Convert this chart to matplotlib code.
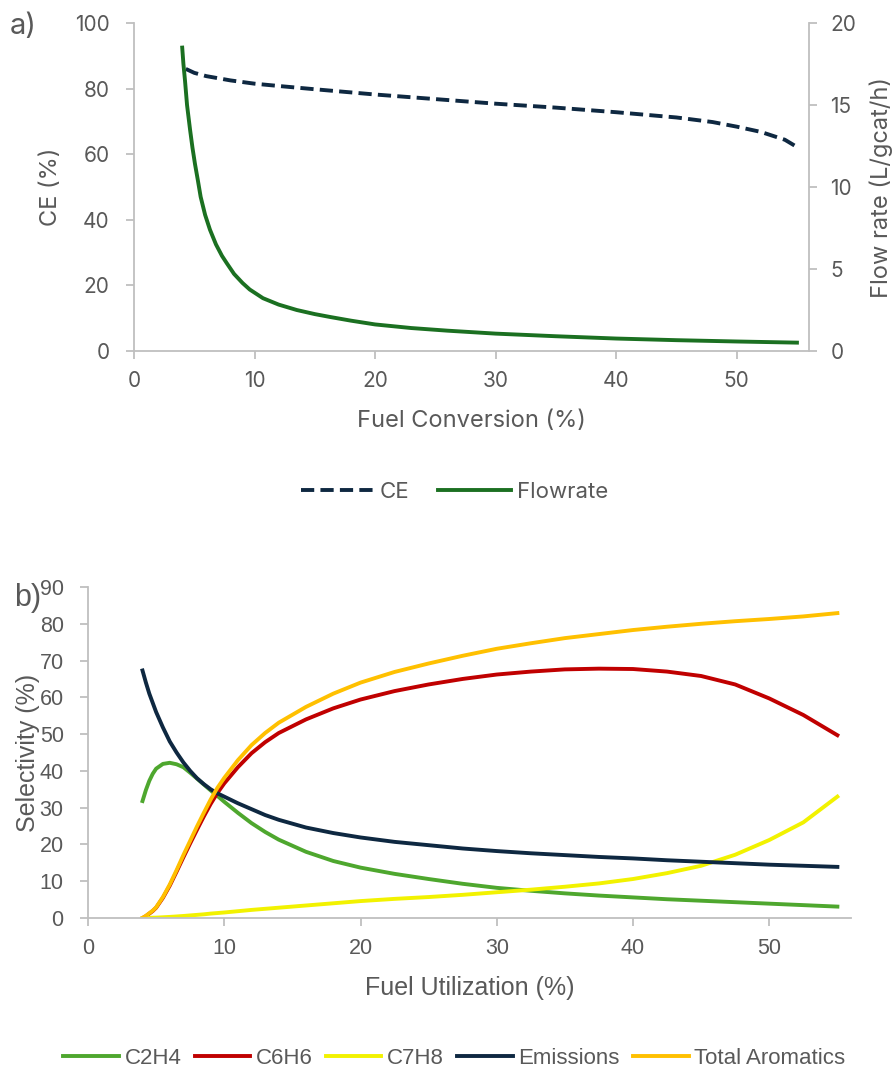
import matplotlib.pyplot as plt
import numpy as np

# panel a) - CE and flow rate vs fuel conversion
conv_ce = [4.3, 5, 6, 8, 10, 12, 15, 20, 25, 30, 35, 40, 45, 48, 50, 52, 54, 55]
ce = [86, 84.8, 83.8, 82.5, 81.5, 80.8, 79.8, 78.2, 76.8, 75.4, 74.2, 72.8, 71.2, 69.8, 68.4, 66.8, 64.4, 62.2]

conv_flow = [4.0, 4.1, 4.23, 4.4, 4.65, 4.85, 5.06, 5.3, 5.53, 5.9, 6.3, 6.8, 7.3, 7.7, 8.3, 9, 9.6,
             10.7, 12, 13.5, 15, 16.3, 18, 20, 23, 26, 30, 35, 40, 45, 50, 55]
flowrate = [18.5, 17.5, 16.5, 15.0, 13.5, 12.4, 11.4, 10.4, 9.4, 8.3, 7.4, 6.5, 5.8, 5.35, 4.7, 4.15, 3.75,
            3.22, 2.83, 2.5, 2.25, 2.07, 1.85, 1.62, 1.4, 1.24, 1.06, 0.9, 0.76, 0.66, 0.58, 0.51]

# panel b) - selectivities vs fuel utilization
util = [4, 4.25, 4.5, 4.75, 5, 5.5, 6, 6.5, 7, 7.5, 8, 8.5, 9, 9.5, 10, 11, 12, 13, 14, 16, 18, 20,
        22.5, 25, 27.5, 30, 32.5, 35, 37.5, 40, 42.5, 45, 47.5, 50, 52.5, 55]
c2h4 = [31.8, 34.8, 37.3, 39.2, 40.6, 41.9, 42.2, 41.8, 41, 39.5, 37.9, 36.3, 34.7, 33.2, 31.6, 28.6, 25.8,
        23.4, 21.3, 18, 15.5, 13.7, 12, 10.6, 9.3, 8.2, 7.4, 6.7, 6.1, 5.6, 5.1, 4.7, 4.3, 3.9, 3.5, 3.1]
c6h6 = [0, 0.5, 1.2, 1.9, 2.8, 5.5, 8.8, 12.6, 16.5, 20.3, 24, 27.6, 31, 34, 36.6, 41, 44.8, 47.8, 50.3, 54,
        57, 59.4, 61.7, 63.5, 65, 66.2, 67, 67.6, 67.8, 67.7, 67, 65.8, 63.5, 59.7, 55.2, 49.7]
c7h8 = [0, 0, 0.05, 0.08, 0.1, 0.2, 0.3, 0.42, 0.55, 0.7, 0.85, 1.0, 1.2, 1.35, 1.5, 1.85, 2.2, 2.5, 2.8, 3.4,
        4.0, 4.6, 5.2, 5.7, 6.3, 7.0, 7.7, 8.5, 9.4, 10.6, 12.2, 14.2, 17.2, 21.2, 26, 33]
emissions = [67.3, 64, 61, 58.5, 56, 51.8, 48, 45, 42.3, 40, 38, 36.4, 35, 33.9, 33, 31.2, 29.6, 28, 26.7,
             24.6, 23.1, 21.9, 20.7, 19.8, 18.9, 18.2, 17.6, 17.1, 16.6, 16.2, 15.7, 15.3, 14.9, 14.5, 14.2, 13.9]
total_arom = [0, 0.6, 1.3, 2.0, 2.9, 5.7, 9.1, 13, 17.1, 21, 24.9, 28.6, 32.2, 35.4, 38.1, 42.9, 47, 50.3,
              53.1, 57.4, 61, 64, 66.9, 69.2, 71.3, 73.2, 74.7, 76.1, 77.2, 78.3, 79.2, 80, 80.7, 81.3, 82, 82.9]

grey = '#BFBFBF'
txt = '#595959'
W, H = 896, 1069

fig = plt.figure(figsize=(W / 100, H / 100), dpi=100)


def style(ax, spines):
    for s in ['top', 'right', 'left', 'bottom']:
        ax.spines[s].set_visible(s in spines)
        ax.spines[s].set_color(grey)
        ax.spines[s].set_linewidth(1.3)
    ax.tick_params(colors=grey, labelcolor=txt, length=5.5, width=1.3, direction='out')


# ---- a)
fa = 'Inter'
ax1 = fig.add_axes([134 / W, 1 - 351 / H, 675 / W, 328 / H])
ax2 = ax1.twinx()
l1, = ax1.plot(conv_ce, ce, color='#0E2841', lw=2.8, ls=(0, (3.4, 1.6)), label='CE')
l2, = ax2.plot(conv_flow, flowrate, color='#1B7021', lw=2.8, label='Flowrate')
ax1.set_xlim(0, 56)
ax1.set_ylim(0, 100)
ax2.set_ylim(0, 20)
ax1.set_xticks(range(0, 51, 10))
ax1.set_yticks(range(0, 101, 20))
ax2.set_yticks(range(0, 21, 5))
style(ax1, ['left', 'bottom'])
style(ax2, ['right'])
for ax in (ax1, ax2):
    for lab in ax.get_xticklabels() + ax.get_yticklabels():
        lab.set_fontfamily(fa)
        lab.set_fontsize(15)
ax1.tick_params(axis='x', pad=9)
ax1.tick_params(axis='y', pad=12)
ax2.tick_params(axis='y', pad=10)
ax1.set_xlabel('Fuel Conversion (%)', fontsize=17, color=txt, family=fa)
ax1.xaxis.set_label_coords(0.5, -0.18)
ax1.set_ylabel('CE (%)', fontsize=17, color=txt, family=fa)
ax1.yaxis.set_label_coords(-0.107, 0.5)
ax2.set_ylabel('Flow rate (L/gcat/h)', fontsize=17, color=txt, family=fa)
ax2.yaxis.set_label_coords(1.089, 0.5)
fig.legend([l1, l2], ['CE', 'Flowrate'], loc='center', bbox_to_anchor=(0.507, 1 - 492 / H),
           ncol=2, frameon=False, handlelength=3.3, columnspacing=1.3, handletextpad=0.25,
           prop={'family': fa, 'size': 16}, labelcolor=txt)
fig.text(10 / W, 1 - 27 / H, 'a)', fontsize=21, color=txt, family=fa, va='center')

# ---- b)
fb = 'Liberation Sans'
ax3 = fig.add_axes([88 / W, 1 - 918 / H, 763 / W, 331 / H])
ax3.plot(util, c2h4, color='#4EA72E', lw=2.8, label='C2H4')
ax3.plot(util, c6h6, color='#C00000', lw=2.8, label='C6H6')
ax3.plot(util, c7h8, color='#F2F200', lw=2.8, label='C7H8')
ax3.plot(util, emissions, color='#0E2841', lw=2.8, label='Emissions')
ax3.plot(util, total_arom, color='#FFC000', lw=2.8, label='Total Aromatics')
ax3.set_xlim(0, 56)
ax3.set_ylim(0, 90)
ax3.set_xticks(range(0, 51, 10))
ax3.set_yticks(range(0, 91, 10))
style(ax3, ['left', 'bottom'])
for lab in ax3.get_xticklabels() + ax3.get_yticklabels():
    lab.set_fontfamily(fb)
    lab.set_fontsize(15.5)
ax3.tick_params(axis='x', pad=9)
ax3.tick_params(axis='y', pad=12)
ax3.set_xlabel('Fuel Utilization (%)', fontsize=18, color=txt, family=fb)
ax3.xaxis.set_label_coords(0.5, -0.175)
ax3.set_ylabel('Selectivity (%)', fontsize=18, color=txt, family=fb)
ax3.yaxis.set_label_coords(-0.063, 0.5)
fig.legend(*ax3.get_legend_handles_labels(), loc='center', bbox_to_anchor=(0.507, 1 - 1058 / H),
           ncol=5, frameon=False, handlelength=2.5, columnspacing=0.6, handletextpad=0.25,
           prop={'family': fb, 'size': 16}, labelcolor=txt)
fig.text(14 / W, 1 - 598 / H, 'b)', fontsize=22, color=txt, family=fb, va='center')

fig.savefig('out.png', dpi=100)
